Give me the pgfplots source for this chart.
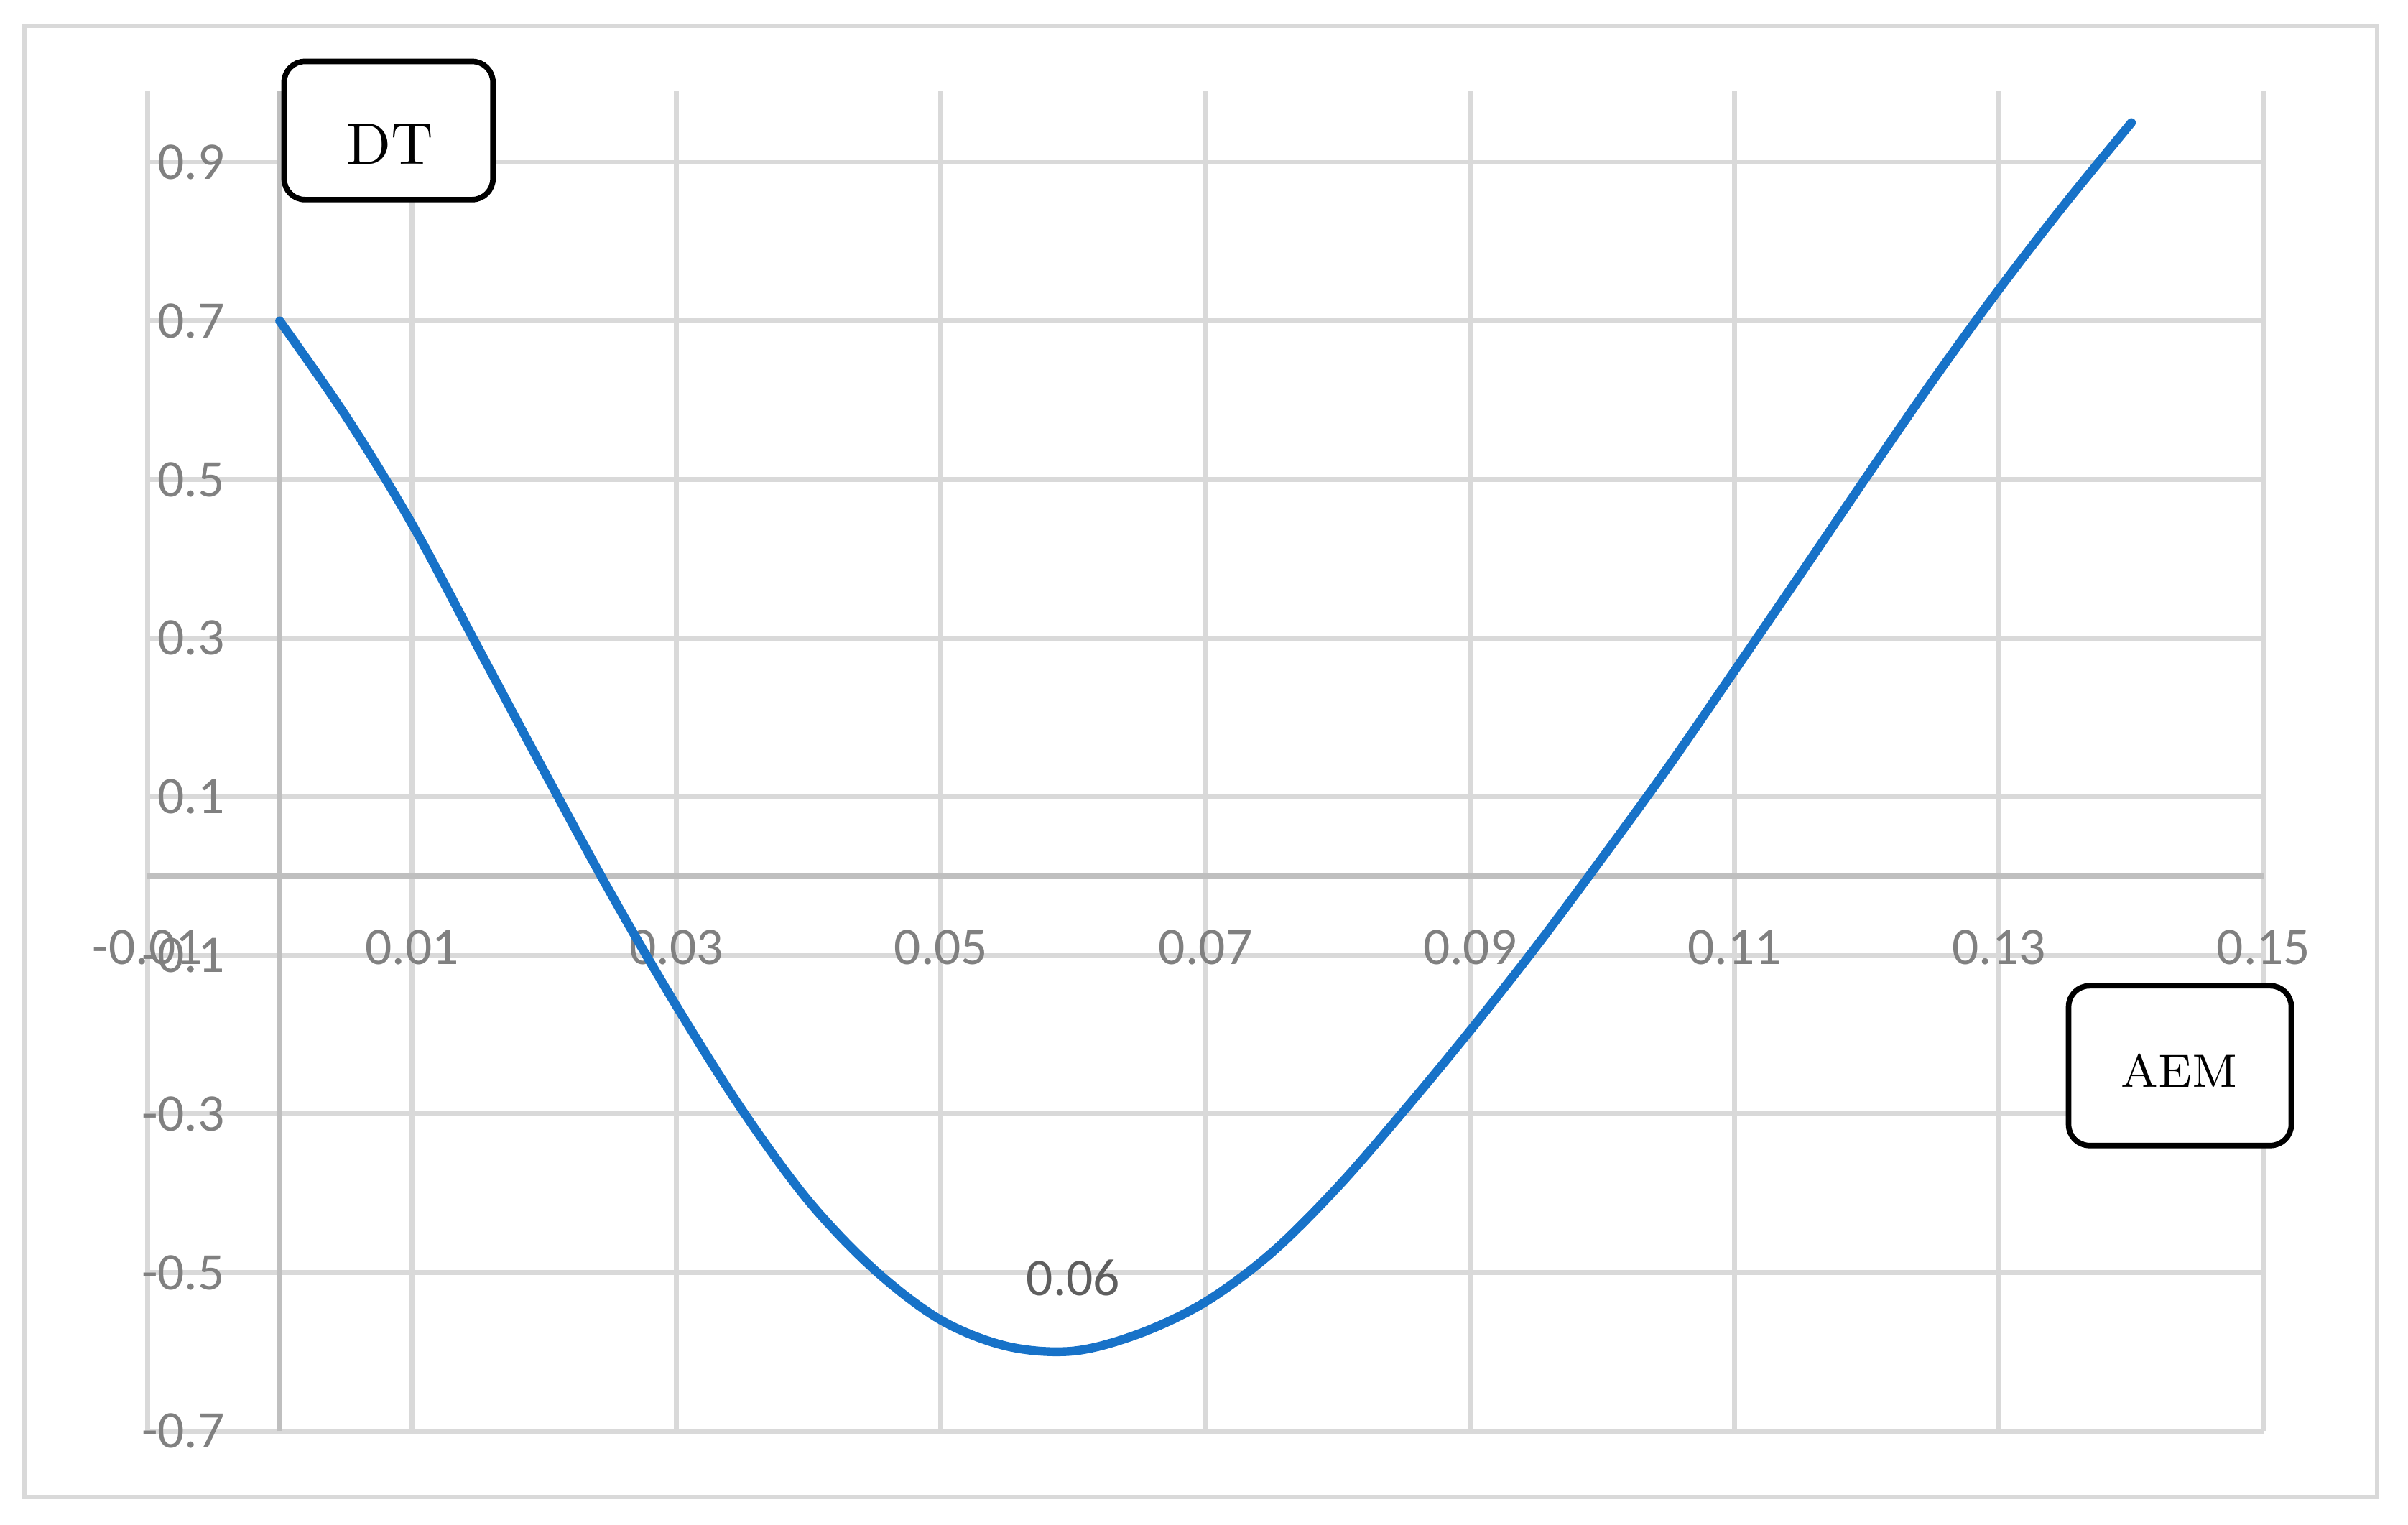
\documentclass[border=0pt]{standalone}
\usepackage{fontspec}
\usepackage{pgfplots}
\pgfplotsset{compat=1.18}
\newfontfamily\calibri{Carlito}
\definecolor{gridc}{HTML}{D9D9D9}
\definecolor{axisc}{HTML}{BFBFBF}
\definecolor{tickc}{HTML}{808080}
\definecolor{labc}{HTML}{5F5F5F}
\definecolor{curvec}{HTML}{1772C8}
\begin{document}
\begin{tikzpicture}
\useasboundingbox (0pt,0pt) rectangle (392pt,248.25pt);
\draw[gridc, line width=0.7pt] (4pt,244pt) rectangle (387pt,4.5pt);
\begin{axis}[
  at={(24pt,15.25pt)}, anchor=south west,
  scale only axis, width=344.5pt, height=218.2pt,
  xmin=-0.01, xmax=0.15, ymin=-0.7, ymax=0.99,
  axis x line=middle, axis y line=middle,
  axis line style={axisc, line width=0.8pt, -},
  xtick={-0.01,0.01,0.03,0.05,0.07,0.09,0.11,0.13,0.15},
  xticklabels={-0.01,0.01,0.03,0.05,0.07,0.09,0.11,0.13,0.15},
  ytick={-0.7,-0.5,-0.3,-0.1,0.1,0.3,0.5,0.7,0.9},
  yticklabels={-0.7,-0.5,-0.3,-0.1,0.1,0.3,0.5,0.7,0.9},
  major tick length=0pt,
  grid=major, major grid style={gridc, line width=0.8pt},
  tick label style={font=\calibri\fontsize{8.6}{10}\selectfont, text=tickc, inner sep=0pt},
  xticklabel style={anchor=north, yshift=-8.6pt},
  yticklabel style={anchor=east, xshift=-8.75pt},
  clip=false,
]
\addplot[curvec, line width=1.45pt, smooth, tension=0.55, line join=round, line cap=round, mark=none] coordinates {
(0.000,0.700)
(0.005,0.580)
(0.010,0.444)
(0.015,0.288)
(0.020,0.132)
(0.025,-0.021)
(0.030,-0.164)
(0.035,-0.296)
(0.040,-0.410)
(0.045,-0.497)
(0.050,-0.560)
(0.055,-0.593)
(0.060,-0.599)
(0.065,-0.577)
(0.070,-0.537)
(0.075,-0.475)
(0.080,-0.392)
(0.085,-0.296)
(0.090,-0.195)
(0.095,-0.089)
(0.100,0.023)
(0.105,0.138)
(0.110,0.259)
(0.115,0.381)
(0.120,0.504)
(0.125,0.625)
(0.130,0.740)
(0.135,0.848)
(0.140,0.950)
};
\node[anchor=south, inner sep=0pt, yshift=8.95pt, font=\calibri\fontsize{8.6}{10}\selectfont, text=labc] at (axis cs:0.06,-0.6) {0.06};
\end{axis}
\draw[black, line width=0.9pt, fill=white, rounded corners=3.4pt] (46.25pt,238.25pt) rectangle (80.25pt,215.75pt);
\node[inner sep=0pt, font=\fontsize{9.5}{11}\selectfont] at (63.5pt,224.75pt) {DT};
\draw[black, line width=0.9pt, fill=white, rounded corners=3.4pt] (336.75pt,87.75pt) rectangle (373pt,61.75pt);
\node[inner sep=0pt, font=\fontsize{7.6}{9}\selectfont] at (354.75pt,74pt) {AEM};
\end{tikzpicture}
\end{document}
